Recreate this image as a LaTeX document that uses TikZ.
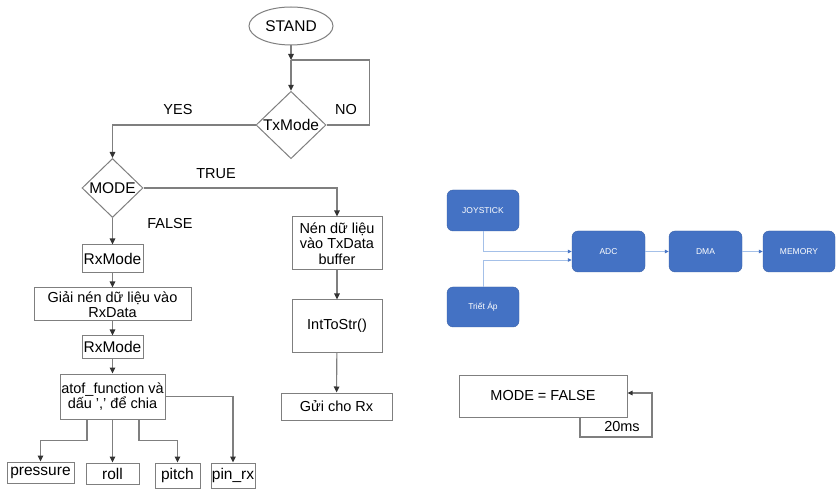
\documentclass[tikz,border=0pt]{standalone}
\usepackage{fontspec}
\setmainfont{Liberation Sans}
\usetikzlibrary{arrows.meta,shapes.geometric}

\definecolor{linegray}{HTML}{7F7F7F}
\definecolor{boxblue}{HTML}{4472C4}
\definecolor{lineblue}{HTML}{A4C0E8}

\begin{document}
\begin{tikzpicture}[x=1pt,y=-1pt,
  line/.style={draw=linegray, line width=1.1pt},
  arr/.style={line, -{Triangle[length=6pt,width=5.5pt,color=black!80]}},
  blk/.style={draw=linegray, line width=1pt, fill=white, inner sep=0pt,
    align=center, font=\fontsize{14.5}{15.5}\selectfont},
  dec/.style={blk, diamond, aspect=1},
  lbl/.style={font=\fontsize{14.5}{16}\selectfont},
  bluebox/.style={fill=boxblue, draw=boxblue!85!black, rounded corners=6pt,
    minimum width=72pt, minimum height=41pt, text=white, inner sep=0pt,
    font=\fontsize{8.5}{10}\selectfont},
  bline/.style={draw=lineblue, line width=0.9pt,
    -{Triangle[length=4pt,width=3.5pt,color=boxblue]}}]
\useasboundingbox [fill=white] (0,0) rectangle (836,497);

% flowchart
\node [blk, ellipse, minimum width=84pt, minimum height=38pt,
  font=\fontsize{15.5}{17}\selectfont] (stand) at (291,26) {STAND};
\coordinate (j) at (291,60);
\node [dec, minimum width=70pt, minimum height=66pt,
  font=\fontsize{15.5}{17}\selectfont] (txmode) at (291,125) {TxMode};
\node [dec, minimum width=61pt, minimum height=59pt,
  font=\fontsize{15.5}{17}\selectfont] (mode) at (112.5,188) {MODE};

\node [blk, minimum width=90pt, minimum height=53pt] (nen) at (337,243.5)
  {Nén dữ liệu\\vào TxData\\buffer};
\node [blk, minimum width=90pt, minimum height=52pt] (ints) at (337,326) {IntToStr()};
\node [blk, minimum width=111pt, minimum height=27pt] (gui) at (336.5,406.5) {Gửi cho Rx};

\node [blk, minimum width=61pt, minimum height=28pt,
  font=\fontsize{15.5}{17}\selectfont] (rx1) at (112.5,259) {RxMode};
\node [blk, minimum width=157pt, minimum height=33pt] (giai) at (112.5,304.5)
  {Giải nén dữ liệu vào\\RxData};
\node [blk, minimum width=61pt, minimum height=22pt,
  font=\fontsize{15.5}{17}\selectfont] (rx2) at (112.5,347) {RxMode};
\node [blk, minimum width=105pt, minimum height=45pt] (atof) at (112.5,396.5)
  {atof\_function và\\dấu ',' để chia};

\node [blk, minimum width=67pt, minimum height=21pt,
  font=\fontsize{15.5}{17}\selectfont] (pressure) at (40.5,472.5) {pressure};
\node [blk, minimum width=53pt, minimum height=21pt,
  font=\fontsize{15.5}{17}\selectfont] (roll) at (112.5,473.5) {roll};
\node [blk, minimum width=45pt, minimum height=25pt,
  font=\fontsize{15.5}{17}\selectfont] (pitch) at (177.5,475.5) {pitch};
\node [blk, minimum width=44pt, minimum height=25pt,
  font=\fontsize{15.5}{17}\selectfont] (pinrx) at (233,475.5) {pin\_rx};

\draw [arr] (stand) -- (j);
\draw [arr] (j) -- (txmode.north);
\draw [line] (txmode.east) -- ++(43,0) |- (j);
\node [lbl] (no) at (346,110) {NO};
\draw [arr] (txmode.west) -| (mode.north);
\node [lbl] (yes) at (178,110) {YES};
\draw [arr] (mode.east) -| (nen.north);
\node [lbl] (true) at (216,174) {TRUE};
\draw [arr] (mode.south) -- (rx1.north);
\node [lbl] (false) at (170,224) {FALSE};

\draw [arr] (rx1) -- (giai);
\draw [arr] (giai) -- (rx2);
\draw [arr] (rx2) -- (atof);
\draw [arr] ([xshift=-25.5pt]atof.south) -- ++(0,21) -| (pressure.north);
\draw [arr] (atof.south) -- (roll.north);
\draw [arr] ([xshift=26.5pt]atof.south) -- ++(0,21) -| (pitch.north);
\draw [arr] (atof.east) -| (pinrx.north);

\draw [arr] (nen) -- (ints);
\draw [arr] (ints) -- (gui);

% block diagram
\node [bluebox] (joy) at (483,210.5) {JOYSTICK};
\node [bluebox, minimum height=40pt] (triet) at (483,307) {Triết Áp};
\node [bluebox, minimum width=73pt] (adc) at (608.5,251.5) {ADC};
\node [bluebox, minimum width=73pt] (dma) at (705.5,251.5) {DMA};
\node [bluebox] (mem) at (799,251.5) {MEMORY};
\draw [bline] (joy.south) |- (adc.west);
\draw [bline] (triet.north) |- ([yshift=-8.5pt]adc.west);
\draw [bline] (adc) -- (dma);
\draw [bline] (dma) -- (mem);

% timer
\node [blk, minimum width=168pt, minimum height=42pt] (mf) at (543,396) {MODE = FALSE};
\coordinate (loopc) at (652,437);
\draw [line, -{Triangle[length=5pt,width=4.5pt,color=black!80]}]
  ([xshift=37pt]mf.south) |- (loopc) |- ([yshift=3pt]mf.east);
\node [lbl] (ms) at (622,427) {20ms};
\end{tikzpicture}
\end{document}
